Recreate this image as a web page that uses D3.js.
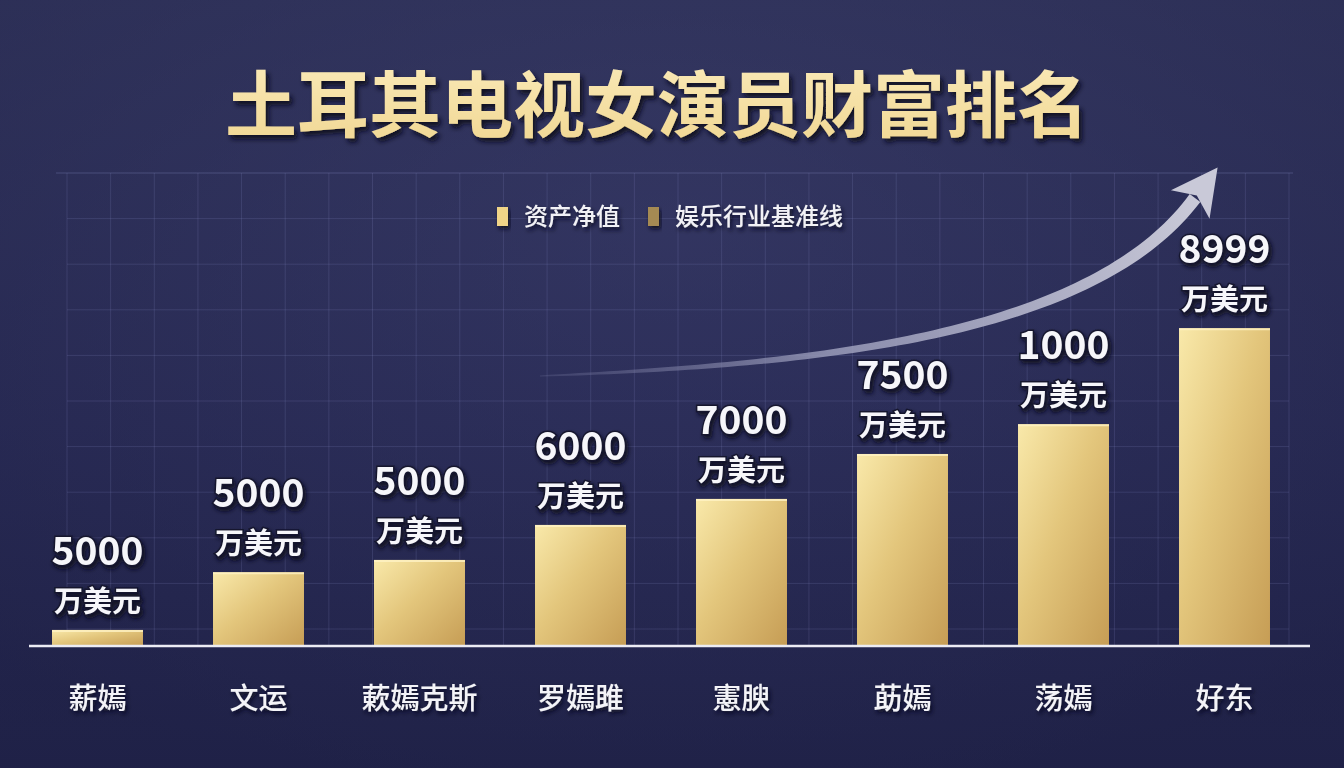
<!DOCTYPE html>
<html><head><meta charset="utf-8">
<script src="https://cdn.jsdelivr.net/npm/d3@7/dist/d3.min.js"></script>
<style>
html,body{margin:0;padding:0;background:#2a2c58;}
svg{display:block;font-family:"Noto Sans CJK SC","Noto Sans",sans-serif;}
</style></head>
<body>
<svg id="chart" width="1344" height="768"></svg>
<script>
// ---- data ----
const titleText = "土耳其电视女演员财富排名";
const categories = ["薪嫣", "文运", "蔌嫣克斯", "罗嫣雎", "憲腴", "莇嫣", "荡嫣", "好东"];
const valueLabels = ["5000", "5000", "5000", "6000", "7000", "7500", "1000", "8999"];
const unitLabel = "万美元";
// bar levels as drawn in the picture (relative units, 0-100 of plot height)
const barLevels = [3.4, 15.6, 18.2, 25.6, 31.1, 40.6, 46.9, 67.2];
const legendItems = ["资产净值", "娱乐行业基准线"];
const legendColors = ["#f0d487", "#a58a52"];

// ---- layout ----
const W = 1344, H = 768;
const svg = d3.select("#chart");
const defs = svg.append("defs");

// background
const bg = defs.append("linearGradient").attr("id", "bg").attr("x1", 0).attr("y1", 0).attr("x2", 0).attr("y2", 1);
bg.append("stop").attr("offset", "0%").attr("stop-color", "#33365f");
bg.append("stop").attr("offset", "55%").attr("stop-color", "#2a2c58");
bg.append("stop").attr("offset", "100%").attr("stop-color", "#22244c");
const vg = defs.append("radialGradient").attr("id", "vig").attr("cx", "50%").attr("cy", "30%").attr("r", "75%");
vg.append("stop").attr("offset", "0%").attr("stop-color", "#3a3d6a").attr("stop-opacity", 0.35);
vg.append("stop").attr("offset", "100%").attr("stop-color", "#1a1c3e").attr("stop-opacity", 0.35);
svg.append("rect").attr("width", W).attr("height", H).attr("fill", "url(#bg)");
svg.append("rect").attr("width", W).attr("height", H).attr("fill", "url(#vig)");

// filters
const sh = defs.append("filter").attr("id", "shadow").attr("x", "-20%").attr("y", "-20%").attr("width", "140%").attr("height", "160%");
sh.append("feDropShadow").attr("dx", 2).attr("dy", 3).attr("stdDeviation", 2).attr("flood-color", "#080a1e").attr("flood-opacity", 0.9);
const sh2 = defs.append("filter").attr("id", "tshadow").attr("x", "-10%").attr("y", "-20%").attr("width", "120%").attr("height", "160%");
sh2.append("feDropShadow").attr("dx", 3).attr("dy", 4).attr("stdDeviation", 2.5).attr("flood-color", "#0a0b1f").attr("flood-opacity", 0.95);

// bar gradient
const bgG = defs.append("linearGradient").attr("id", "gold").attr("x1", 0).attr("y1", 0).attr("x2", 1).attr("y2", 1);
bgG.append("stop").attr("offset", "0%").attr("stop-color", "#f9e9aa");
bgG.append("stop").attr("offset", "45%").attr("stop-color", "#e3c67c");
bgG.append("stop").attr("offset", "100%").attr("stop-color", "#c69d55");

// title gradient
const tG = defs.append("linearGradient").attr("id", "titleG").attr("x1", 0).attr("y1", 0).attr("x2", 0).attr("y2", 1);
tG.append("stop").attr("offset", "0%").attr("stop-color", "#fbecbc");
tG.append("stop").attr("offset", "100%").attr("stop-color", "#f0d691");

// scales
const plotTop = 173, baseY = 646;
const x = d3.scaleBand().domain(categories).range([17, 1305]).paddingInner(0.435).paddingOuter(0.2175);
const y = d3.scaleLinear().domain([0, 100]).range([baseY, plotTop]);

// grid (decorative background lattice)
const grid = svg.append("g").attr("stroke", "#8a90c8").attr("stroke-width", 1);
const gx0 = 67, gx1 = 1289, gcols = 28, grows = 10, gy1 = 629;
d3.range(gcols + 1).forEach(i => {
  const gx = gx0 + i * (gx1 - gx0) / gcols;
  grid.append("line").attr("x1", gx).attr("x2", gx).attr("y1", plotTop).attr("y2", baseY).attr("stroke-opacity", 0.19);
});
d3.range(grows + 1).forEach(i => {
  const gy = plotTop + i * (gy1 - plotTop) / grows;
  grid.append("line").attr("x1", i === 0 ? 56 : gx0).attr("x2", i === 0 ? 1293 : gx1).attr("y1", gy).attr("y2", gy)
    .attr("stroke-opacity", i === 0 ? 0.32 : 0.19);
});

// title
svg.append("text").attr("x", 657).attr("y", 131).attr("text-anchor", "middle")
  .attr("font-size", 72).attr("font-weight", 700).attr("fill", "url(#titleG)")
  .attr("filter", "url(#tshadow)").text(titleText);

// legend
const leg = svg.append("g");
const legX = [497, 648];
legendItems.forEach((t, i) => {
  leg.append("rect").attr("x", legX[i]).attr("y", 207).attr("width", 11).attr("height", 19)
    .attr("fill", legendColors[i]).attr("filter", "url(#shadow)");
  leg.append("text").attr("x", legX[i] + 27).attr("y", 225).attr("font-size", 24).attr("font-weight", 500)
    .attr("fill", "#f2f2f6").attr("filter", "url(#shadow)").text(t);
});

// arrow (decorative trend)
const P0 = [540, 376], P1 = [800, 365], P2 = [1090, 340], P3 = [1195, 198];
function bez(t) {
  const a = (1 - t) ** 3, b = 3 * (1 - t) ** 2 * t, c = 3 * (1 - t) * t * t, d = t ** 3;
  return [a * P0[0] + b * P1[0] + c * P2[0] + d * P3[0], a * P0[1] + b * P1[1] + c * P2[1] + d * P3[1]];
}
function bezD(t) {
  const a = 3 * (1 - t) ** 2, b = 6 * (1 - t) * t, c = 3 * t * t;
  return [a * (P1[0] - P0[0]) + b * (P2[0] - P1[0]) + c * (P3[0] - P2[0]),
          a * (P1[1] - P0[1]) + b * (P2[1] - P1[1]) + c * (P3[1] - P2[1])];
}
const N = 80, left = [], right = [];
for (let i = 0; i <= N; i++) {
  const t = i / N, p = bez(t), d = bezD(t), L = Math.hypot(d[0], d[1]);
  const nx = -d[1] / L, ny = d[0] / L, w = 0.6 + 6 * Math.pow(t, 0.8);
  left.push([p[0] + nx * w, p[1] + ny * w]);
  right.push([p[0] - nx * w, p[1] - ny * w]);
}
const ag = defs.append("linearGradient").attr("id", "arrowG").attr("gradientUnits", "userSpaceOnUse")
  .attr("x1", 540).attr("y1", 376).attr("x2", 1220).attr("y2", 170);
ag.append("stop").attr("offset", "0%").attr("stop-color", "#6a6c94").attr("stop-opacity", 0.3);
ag.append("stop").attr("offset", "40%").attr("stop-color", "#9a9cba").attr("stop-opacity", 0.85);
ag.append("stop").attr("offset", "100%").attr("stop-color", "#cfcfdc").attr("stop-opacity", 1);
const shaft = left.concat(right.reverse());
svg.append("path").attr("d", d3.line()(shaft) + "Z").attr("fill", "url(#arrowG)");
// head
const dEnd = bezD(1), LE = Math.hypot(dEnd[0], dEnd[1]);
const ux = dEnd[0] / LE, uy = dEnd[1] / LE, px = -uy, py = ux;
const base = [P3[0] - ux * 8, P3[1] - uy * 8];
const tip = [P3[0] + ux * 38, P3[1] + uy * 38];
const head = [tip, [base[0] + px * 24, base[1] + py * 24], [P3[0] + ux * 3, P3[1] + uy * 3], [base[0] - px * 24, base[1] - py * 24]];
svg.append("path").attr("d", d3.line()(head) + "Z").attr("fill", "#c9c9d8");

// bars
const bars = svg.append("g");
bars.selectAll("rect.bar").data(categories).join("rect").attr("class", "bar")
  .attr("x", d => x(d)).attr("width", x.bandwidth())
  .attr("y", (d, i) => y(barLevels[i])).attr("height", (d, i) => baseY - y(barLevels[i]))
  .attr("fill", "url(#gold)");
bars.selectAll("line.hl").data(categories).join("line").attr("class", "hl")
  .attr("x1", d => x(d)).attr("x2", d => x(d) + x.bandwidth())
  .attr("y1", (d, i) => y(barLevels[i]) + 1).attr("y2", (d, i) => y(barLevels[i]) + 1)
  .attr("stroke", "#fff2c4").attr("stroke-width", 2).attr("stroke-opacity", 0.8);

// value labels
const lab = svg.append("g").attr("text-anchor", "middle").attr("fill", "#f6f6fa")
  .attr("stroke", "#15162e").attr("stroke-width", 3).attr("paint-order", "stroke").attr("filter", "url(#shadow)");
lab.selectAll("text.num").data(categories).join("text").attr("class", "num")
  .attr("x", d => x(d) + x.bandwidth() / 2).attr("y", (d, i) => y(barLevels[i]) - 65)
  .attr("font-size", 39).attr("font-weight", 700).text((d, i) => valueLabels[i]);
lab.selectAll("text.unit").data(categories).join("text").attr("class", "unit")
  .attr("x", d => x(d) + x.bandwidth() / 2).attr("y", (d, i) => y(barLevels[i]) - 18)
  .attr("font-size", 29).attr("font-weight", 700).text(unitLabel);

// x axis
const axis = svg.append("g").attr("transform", `translate(0,${baseY})`)
  .call(d3.axisBottom(x).tickSize(0).tickPadding(0));
axis.select(".domain").remove();
axis.selectAll("text").attr("y", 63).attr("dy", 0).attr("font-size", 29).attr("font-weight", 500)
  .attr("fill", "#f4f4f8").attr("font-family", "Noto Sans CJK SC").attr("filter", "url(#shadow)");
svg.append("line").attr("x1", 29).attr("x2", 1310).attr("y1", baseY).attr("y2", baseY)
  .attr("stroke", "#ececf4").attr("stroke-width", 2.5);
</script>
</body></html>
